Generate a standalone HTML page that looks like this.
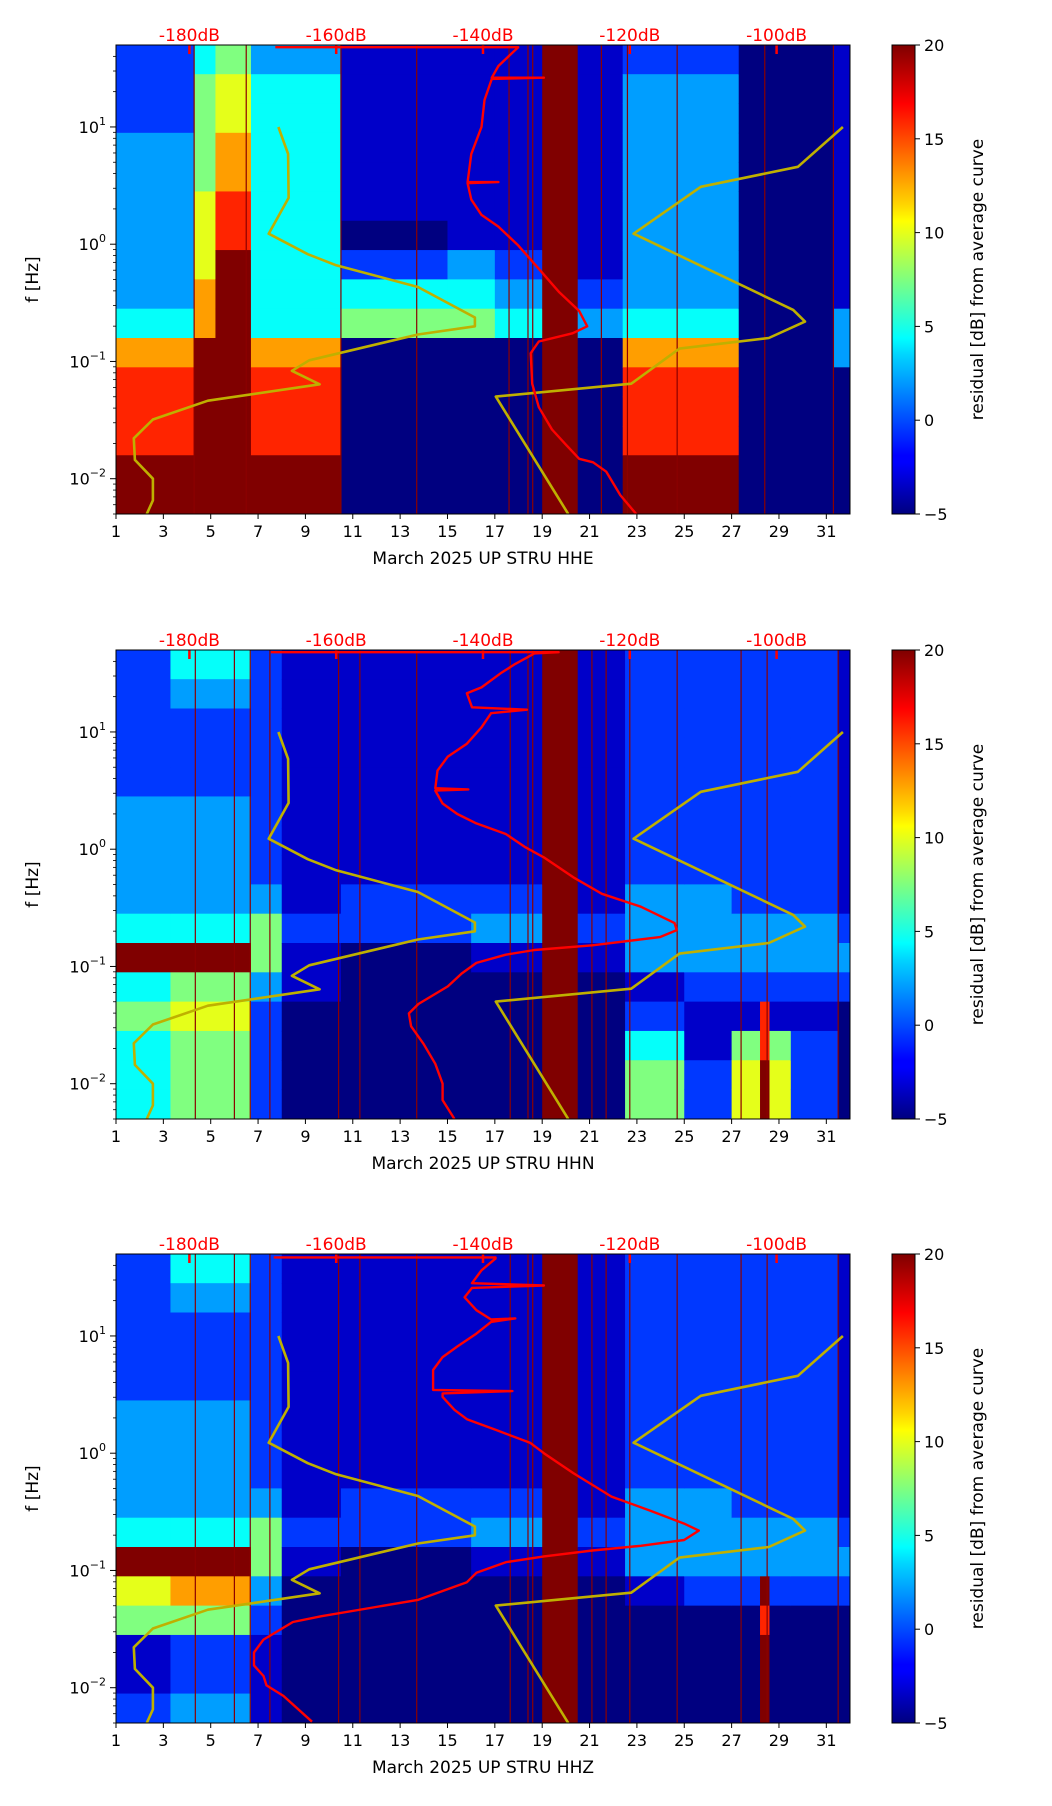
<!DOCTYPE html>
<html><head><meta charset="utf-8"><title>Spectrogram residuals</title>
<style>
html,body{margin:0;padding:0;background:#fff;}
svg{display:block;font-family:"DejaVu Sans","Liberation Sans",sans-serif;}
</style></head>
<body>
<svg id="fig" width="1052" height="1806" viewBox="0 0 1052 1806" xmlns="http://www.w3.org/2000/svg">
<defs>
<linearGradient id="jet" x1="0" y1="1" x2="0" y2="0">
<stop offset="0" stop-color="#00007f"/><stop offset="0.11" stop-color="#0000ff"/><stop offset="0.125" stop-color="#0000ff"/>
<stop offset="0.34" stop-color="#00d5ff"/><stop offset="0.375" stop-color="#00ffff"/><stop offset="0.5" stop-color="#7fff7f"/>
<stop offset="0.625" stop-color="#ffff00"/><stop offset="0.66" stop-color="#ffd500"/><stop offset="0.875" stop-color="#ff0000"/><stop offset="1" stop-color="#7f0000"/>
</linearGradient>
</defs>
</svg>
<script>
// ---------- data ----------
const dayTicks = [1,3,5,7,9,11,13,15,17,19,21,23,25,27,29,31];
const dbTicks = [-180,-160,-140,-120,-100];
const freqTickExps = [-2,-1,0,1];
const cbTicks = [-5,0,5,10,15,20];
const codeValues = [-5,-3.2,-0.5,2,4.5,7.5,10,13,16,20];
const panelTitles = ["March 2025 UP STRU  HHE","March 2025 UP STRU  HHN","March 2025 UP STRU  HHZ"];

// segments: start day, profile top->bottom (16 bands of 0.25 decade, codes 0-9)
const segStarts1 = [1,4.3,5.2,6.7,10.5,15,17,19,20.5,22.4,27.3,31.3];
const segProfiles1 = ["2223333334788899","4555566677999999","5667788999999999","3444444444788899","1111110245000000","1111111345000000","1111111234000000","9999999999999999","1111111123000000","2333333334788899","0000000000000000","1111111113300000"];
const segStarts2 = [1,3.3,6.7,8,10.5,16,19,20.5,22.5,25,27,28.2,28.6,29.5,31.5];
const segProfiles2 = ["2222233334945444","4322233334956555","2222222235532222","1111111112110000","1111111122000000","1111111123100000","9999999999999999","1111111112100000","2222222233312455","2222222233321122","2222222223321566","2222222223328899","2222222223321566","2222222223321222","1111111112320000"];
const segStarts3 = [1,3.3,6.7,8,10.5,16,19,20.5,22.5,25,27,28.2,28.6,29.5,31.5];
const segProfiles3 = ["2222233334965112","4322233334975223","2222222235532111","1111111112100000","1111111122000000","1111111123100000","9999999999999999","1111111112100000","2222222233310000","2222222233320000","2222222223320000","2222222223398999","2222222223320000","2222222223320000","1111111112320000"];
const gapDays1 = [4.3,6.5,10.5,13.7,17.6,18.4,18.6,21.5,22.6,24.7,28.4,31.3];
const gapDays2 = [4.35,6.0,6.67,7.5,10.4,11.3,13.7,17.65,18.4,18.6,21.1,21.7,22.7,24.7,27.4,28.5,31.5];

// yellow curves (day, log10 f)
const yellowADays = [7.86,8.27,8.29,7.45,9.1,10.3,13.75,16.16,16.16,13.75,9.16,8.43,9.6,4.88,2.56,1.75,1.8,2.56,2.56,2.3];
const yellowALogF = [1.0,0.77,0.395,0.09,-0.085,-0.18,-0.365,-0.625,-0.70,-0.77,-0.99,-1.08,-1.195,-1.335,-1.495,-1.655,-1.84,-2.0,-2.185,-2.30];
const yellowBDays = [20.1,17.04,22.76,24.8,28.57,30.1,29.6,22.86,25.7,29.8,31.7];
const yellowBLogF = [-2.30,-1.30,-1.19,-0.89,-0.80,-0.66,-0.56,0.09,0.49,0.66,1.0];

// red curves (dB, log10 f)
const red1Db = [-168.3,-135.2,-137.9,-138.8,-131.7,-138.8,-139.8,-140.2,-141.6,-142.1,-137.9,-142.1,-141.6,-140.2,-137.9,-135.2,-132.4,-129.6,-126.9,-125.8,-127.8,-132.4,-133.5,-133.3,-132.4,-130.6,-128.7,-126.9,-125.0,-123.2,-121.3,-119.0];
const red1LogF = [1.68,1.68,1.52,1.42,1.42,1.41,1.23,1.0,0.77,0.53,0.53,0.52,0.38,0.25,0.15,-0.01,-0.21,-0.41,-0.57,-0.70,-0.76,-0.83,-0.93,-1.19,-1.39,-1.58,-1.71,-1.83,-1.86,-1.94,-2.14,-2.31];
const red2Db = [-168.9,-129.7,-133.0,-135.6,-137.6,-140.2,-142.2,-141.5,-134.0,-138.9,-140.2,-142.2,-144.8,-146.2,-146.5,-142.0,-146.5,-145.5,-143.5,-140.9,-136.9,-134.3,-131.7,-127.7,-123.8,-118.5,-113.9,-113.6,-115.9,-125.1,-133.0,-136.9,-140.9,-142.9,-144.8,-148.8,-150.1,-149.8,-148.1,-146.5,-145.5,-145.5,-143.9];
const red2LogF = [1.68,1.68,1.67,1.58,1.50,1.38,1.33,1.21,1.19,1.16,1.04,0.90,0.79,0.67,0.52,0.51,0.50,0.39,0.30,0.22,0.13,0.02,-0.07,-0.24,-0.38,-0.49,-0.63,-0.69,-0.75,-0.82,-0.86,-0.90,-0.97,-1.06,-1.17,-1.32,-1.40,-1.51,-1.66,-1.83,-2.00,-2.14,-2.30];
const red3Db = [-168.5,-138.3,-138.3,-140.2,-141.5,-131.7,-141.5,-142.5,-140.9,-138.9,-135.6,-138.9,-140.9,-143.5,-145.5,-146.8,-146.8,-136.0,-145.5,-145.5,-143.9,-142.2,-138.3,-133.6,-131.7,-127.7,-122.5,-117.2,-112.6,-110.6,-112.6,-118.5,-125.1,-131.7,-136.9,-140.9,-142.2,-148.8,-155.4,-162.0,-165.9,-169.9,-171.2,-171.2,-169.9,-169.5,-167.2,-163.3];
const red3LogF = [1.67,1.67,1.66,1.56,1.45,1.43,1.41,1.33,1.22,1.14,1.15,1.12,1.02,0.91,0.82,0.71,0.54,0.53,0.51,0.48,0.37,0.29,0.20,0.09,0.00,-0.17,-0.37,-0.49,-0.60,-0.66,-0.74,-0.79,-0.83,-0.88,-0.93,-1.02,-1.10,-1.25,-1.32,-1.39,-1.44,-1.59,-1.70,-1.81,-1.90,-1.98,-2.07,-2.29];

// ---------- drawing ----------
const NS = "http://www.w3.org/2000/svg";
const svg = document.getElementById('fig');
const L = 116, R = 850, W = R - L;
const panelTops = [45, 650, 1254];
const H = 469;
const CBX = 892, CBW = 23;
const LOGTOP = Math.log10(50), LOGBOT = Math.log10(0.005);

function mk(tag, attrs, parent) {
  const e = document.createElementNS(NS, tag);
  for (const k in attrs) e.setAttribute(k, attrs[k]);
  (parent || svg).appendChild(e);
  return e;
}
function jet(v) {
  let t = (v + 5) / 25; t = Math.max(0, Math.min(1, t));
  const c = x => Math.round(255 * Math.max(0, Math.min(1, x)));
  return `rgb(${c(1.5 - Math.abs(4*t - 3))},${c(1.5 - Math.abs(4*t - 2))},${c(1.5 - Math.abs(4*t - 1))})`;
}

const panels = [
  {starts: segStarts1, profiles: segProfiles1, gaps: gapDays1, redDb: red1Db, redLogF: red1LogF},
  {starts: segStarts2, profiles: segProfiles2, gaps: gapDays2, redDb: red2Db, redLogF: red2LogF},
  {starts: segStarts3, profiles: segProfiles3, gaps: gapDays2, redDb: red3Db, redLogF: red3LogF}
];

panels.forEach((p, pi) => {
  const top = panelTops[pi];
  const xDay = d => L + (d - 1) / 31 * W;
  const yLog = lf => top + (LOGTOP - lf) / (LOGTOP - LOGBOT) * H;
  const xDb = db => L + (db + 190) / 100 * W;

  const g = mk('g', {});
  
  
  const clipId = 'clip' + pi;
  const cp = mk('clipPath', {id: clipId}, g);
  mk('rect', {x: L, y: top, width: W, height: H}, cp);

  const hm = mk('g', {'clip-path': `url(#${clipId})`}, g);
  
  
  mk('rect', {x: L, y: top, width: W, height: H, fill: '#00007f'}, hm);
  const nb = 16, bandTop = 1.7, bandStep = 0.25;
  p.starts.forEach((s, si) => {
    const e = si + 1 < p.starts.length ? p.starts[si + 1] : 32;
    const prof = p.profiles[si];
    for (let r = 0; r < nb; r++) {
      const v = codeValues[+prof[r]];
      const y0 = yLog(bandTop - r * bandStep), y1 = yLog(bandTop - (r + 1) * bandStep);
      const cell = mk('rect', {x: xDay(s), y: y0, width: xDay(e) - xDay(s) + 0.5, height: y1 - y0 + 0.5, fill: jet(v)}, hm);
      
      
    }
  });
  p.gaps.forEach(d => {
    const ln = mk('line', {x1: xDay(d), x2: xDay(d), y1: top, y2: top + H, stroke: '#8b0000', 'stroke-width': 1.2}, hm);
    
    
  });
  dbTicks.forEach(db => {
    const t = mk('line', {x1: xDb(db), x2: xDb(db), y1: top, y2: top + 9, stroke: '#ff0000', 'stroke-width': 2.5}, hm);
    
    
  });
  [[yellowADays, yellowALogF], [yellowBDays, yellowBLogF]].forEach(([ds, ls], k) => {
    const pts = ds.map((d, i) => xDay(d).toFixed(1) + ',' + yLog(ls[i]).toFixed(1)).join(' ');
    const pl = mk('polyline', {points: pts, fill: 'none', stroke: '#bfb000', 'stroke-width': 2.6, 'stroke-linejoin': 'round'}, hm);
    
    
  });
  const rpts = p.redDb.map((db, i) => xDb(db).toFixed(1) + ',' + yLog(p.redLogF[i]).toFixed(1)).join(' ');
  const rl = mk('polyline', {points: rpts, fill: 'none', stroke: '#ff0000', 'stroke-width': 2.4, 'stroke-linejoin': 'round'}, hm);
  
  

  const fr = mk('rect', {x: L, y: top, width: W, height: H, fill: 'none', stroke: '#000', 'stroke-width': 1}, g);
  
  

  dayTicks.forEach(d => {
    mk('line', {x1: xDay(d), x2: xDay(d), y1: top + H, y2: top + H + 5, stroke: '#000'}, g);
    const t = mk('text', {x: xDay(d), y: top + H + 23, 'text-anchor': 'middle', 'font-size': 16, fill: '#000'}, g);
    t.textContent = d;
    
    
  });
  const xl = mk('text', {x: (L + R) / 2, y: top + H + 50, 'text-anchor': 'middle', 'font-size': 17, fill: '#000'}, g);
  xl.textContent = panelTitles[pi];
  
  

  dbTicks.forEach(db => {
    const t = mk('text', {x: xDb(db), y: top - 4, 'text-anchor': 'middle', 'font-size': 17, fill: '#ff0000'}, g);
    t.textContent = db + 'dB';
    
    
  });

  freqTickExps.forEach(ex => {
    const y = yLog(ex);
    mk('line', {x1: L - 6, x2: L, y1: y, y2: y, stroke: '#000'}, g);
    const t = mk('text', {x: L - 10, y: y + 6, 'text-anchor': 'end', 'font-size': 16, fill: '#000'}, g);
    
    
    const a = mk('tspan', {}, t); a.textContent = '10';
    const b = mk('tspan', {dy: -8, 'font-size': 11}, t); b.textContent = ex < 0 ? '\u2212' + (-ex) : String(ex);
    for (let m = 2; m <= 9; m++) {
      const lf = ex + Math.log10(m);
      if (lf < LOGTOP) mk('line', {x1: L - 3, x2: L, y1: yLog(lf), y2: yLog(lf), stroke: '#000', 'stroke-width': 0.8}, g);
    }
  });
  for (let m = 5; m <= 9; m++) mk('line', {x1: L - 3, x2: L, y1: yLog(-3 + Math.log10(m)), y2: yLog(-3 + Math.log10(m)), stroke: '#000', 'stroke-width': 0.8}, g);
  const yl = mk('text', {x: 0, y: 0, transform: `translate(38,${top + H / 2}) rotate(-90)`, 'text-anchor': 'middle', 'font-size': 17, fill: '#000'}, g);
  yl.textContent = 'f [Hz]';
  
  

  const cb = mk('rect', {x: CBX, y: top, width: CBW, height: H, fill: 'url(#jet)', stroke: '#000', 'stroke-width': 1}, g);
  
  
  cbTicks.forEach(v => {
    const y = top + H - (v + 5) / 25 * H;
    mk('line', {x1: CBX + CBW, x2: CBX + CBW + 5, y1: y, y2: y, stroke: '#000'}, g);
    const t = mk('text', {x: CBX + CBW + 9, y: y + 6, 'font-size': 16, fill: '#000'}, g);
    t.textContent = v < 0 ? '\u2212' + (-v) : String(v);
    
    
  });
  const cl = mk('text', {x: 0, y: 0, transform: `translate(983,${top + H / 2}) rotate(-90)`, 'text-anchor': 'middle', 'font-size': 17, fill: '#000'}, g);
  cl.textContent = 'residual [dB] from average curve';
  
  
});
</script>
</body></html>
